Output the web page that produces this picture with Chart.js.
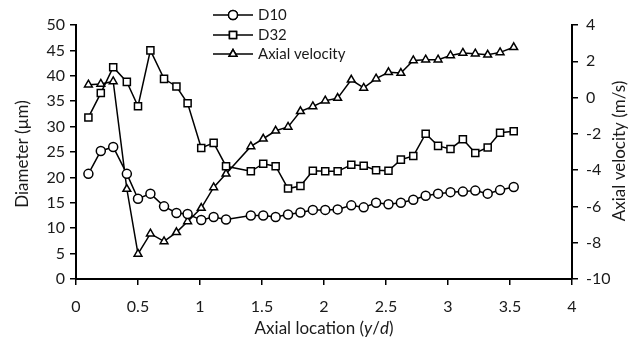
<!DOCTYPE html>
<html>
<head>
<meta charset="utf-8">
<script src="https://cdn.jsdelivr.net/npm/chart.js@4/dist/chart.umd.min.js"></script>
<style>
  html, body { margin: 0; padding: 0; background: #fff; }
  #wrap { width: 638px; height: 343px; position: relative; }
</style>
</head>
<body>
<div id="wrap"><canvas id="myChart"></canvas></div>
<script>
// axial location y/d (no point at 1.3)
const xLoc = [0.10, 0.20, 0.30, 0.41, 0.50, 0.60, 0.71, 0.81, 0.90, 1.01, 1.11, 1.21,
  1.41, 1.51, 1.61, 1.71, 1.81, 1.91, 2.01, 2.11, 2.22, 2.32, 2.42, 2.52, 2.62, 2.72,
  2.82, 2.92, 3.02, 3.12, 3.22, 3.32, 3.42, 3.53];

// D10 diameter (um)
const d10 = [20.7, 25.2, 26.0, 20.7, 15.8, 16.8, 14.3, 13.0, 12.8, 11.6, 12.2, 11.7,
  12.5, 12.5, 12.2, 12.7, 13.1, 13.6, 13.6, 13.7, 14.5, 14.1, 15.0, 14.7, 15.0, 15.6,
  16.4, 16.8, 17.1, 17.2, 17.4, 16.8, 17.5, 18.1];

// D32 diameter (um)
const d32 = [31.8, 36.6, 41.7, 38.8, 34.0, 45.0, 39.4, 37.9, 34.6, 25.8, 26.8, 22.2,
  21.2, 22.7, 22.2, 17.8, 18.3, 21.3, 21.2, 21.2, 22.5, 22.3, 21.4, 21.3, 23.5, 24.2,
  28.6, 26.2, 25.6, 27.5, 24.8, 25.9, 28.8, 29.1];

// axial velocity (m/s)
const axialVel = [0.71, 0.75, 0.89, -5.04, -8.62, -7.5, -7.93, -7.43, -6.83, -6.09, -4.95, -4.2,
  -2.69, -2.27, -1.83, -1.62, -0.76, -0.49, -0.17, -0.03, 0.98, 0.53, 1.04, 1.39, 1.35, 2.05,
  2.09, 2.09, 2.32, 2.46, 2.42, 2.36, 2.49, 2.77];

const seriesNames = ["D10", "D32", "Axial velocity"];
const markers = ["circle", "rect", "triangle"];

const FONT = "Lato, 'Open Sans', sans-serif";

function pts(ys) {
  return xLoc.map((x, i) => ({ x: x, y: ys[i] }));
}

function makeSet(i, ys, axis) {
  return {
    label: seriesNames[i],
    data: pts(ys),
    yAxisID: axis,
    borderColor: "#000",
    borderWidth: 1.5,
    pointStyle: markers[i],
    pointRadius: i == 1 ? 5 : 4.5,
    pointBackgroundColor: "#fff",
    pointBorderColor: "#000",
    pointBorderWidth: 1.5,
    tension: 0
  };
}

// titles + legend drawn by hand (right title reads bottom-to-top, x title has italics)
const extras = {
  id: "extras",
  afterDraw(chart) {
    const ctx = chart.ctx;
    ctx.save();
    ctx.fillStyle = "#1a1a1a";
    ctx.font = "17px " + FONT;
    ctx.textBaseline = "middle";
    ctx.textAlign = "center";

    // left title
    ctx.save();
    ctx.translate(23, 154);
    ctx.rotate(-Math.PI / 2);
    ctx.fillText("Diameter (\u00b5m)", 0, 0);
    ctx.restore();

    // right title
    ctx.save();
    ctx.translate(620, 151);
    ctx.rotate(-Math.PI / 2);
    ctx.fillText("Axial velocity (m/s)", 0, 0);
    ctx.restore();

    // x title with italic y and d
    const parts = [["Axial location (", false], ["y", true], ["/", false], ["d", true], [")", false]];
    let total = 0;
    parts.forEach(p => {
      ctx.font = (p[1] ? "italic " : "") + "17px " + FONT;
      total += ctx.measureText(p[0]).width;
    });
    let xs = (chart.chartArea.left + chart.chartArea.right) / 2 - total / 2;
    ctx.textAlign = "left";
    parts.forEach(p => {
      ctx.font = (p[1] ? "italic " : "") + "17px " + FONT;
      ctx.fillText(p[0], xs, 329);
      xs += ctx.measureText(p[0]).width;
    });

    // legend
    const rows = [15, 35, 54];
    chart.data.datasets.forEach((ds, i) => {
      const y = rows[i];
      ctx.strokeStyle = "#000";
      ctx.lineWidth = 1.5;
      ctx.beginPath();
      ctx.moveTo(213, y);
      ctx.lineTo(253, y);
      ctx.stroke();
      Chart.helpers.drawPoint(ctx, {
        pointStyle: ds.pointStyle,
        radius: ds.pointRadius,
        borderWidth: 1.5,
        rotation: 0
      }, 233, y);
      ctx.fillStyle = "#fff";
      ctx.fill();
      ctx.stroke();
      ctx.fillStyle = "#1a1a1a";
      ctx.font = "15px " + FONT;
      ctx.fillText(ds.label, 258, y);
    });
    ctx.restore();
  }
};

const tickFont = { family: FONT, size: 16 };

const myChart = new Chart("myChart", {
  type: "line",
  data: {
    datasets: [
      makeSet(0, d10, "yL"),
      makeSet(1, d32, "yL"),
      makeSet(2, axialVel, "yR")
    ]
  },
  options: {
    responsive: true,
    maintainAspectRatio: false,
    animation: false,
    layout: { padding: { top: 25, left: 0, right: 0, bottom: 0 } },
    plugins: {
      legend: { display: false },
      tooltip: { enabled: false }
    },
    scales: {
      x: {
        type: "linear",
        min: 0,
        max: 4,
        ticks: { stepSize: 0.5, color: "#1a1a1a", font: tickFont, padding: 12, maxRotation: 0,
          callback: v => String(v) },
        grid: { drawOnChartArea: false, color: "#000", lineWidth: 1.5, tickLength: 6 },
        border: { display: true, color: "#000", width: 2 },
        afterFit(s) { s.height = 64; }
      },
      yL: {
        position: "left",
        min: 0,
        max: 50,
        ticks: { stepSize: 5, color: "#1a1a1a", font: tickFont, padding: 5 },
        grid: { drawOnChartArea: false, color: "#000", lineWidth: 1.5, tickLength: 6 },
        border: { display: true, color: "#000", width: 2 },
        afterFit(s) { s.width = 76; }
      },
      yR: {
        position: "right",
        min: -10,
        max: 4,
        ticks: { stepSize: 2, color: "#1a1a1a", font: tickFont, padding: 8 },
        grid: { drawOnChartArea: false, color: "#000", lineWidth: 1.5, tickLength: 6 },
        border: { display: true, color: "#000", width: 2 },
        afterFit(s) { s.width = 66; }
      }
    }
  },
  plugins: [extras]
});
</script>
</body>
</html>
